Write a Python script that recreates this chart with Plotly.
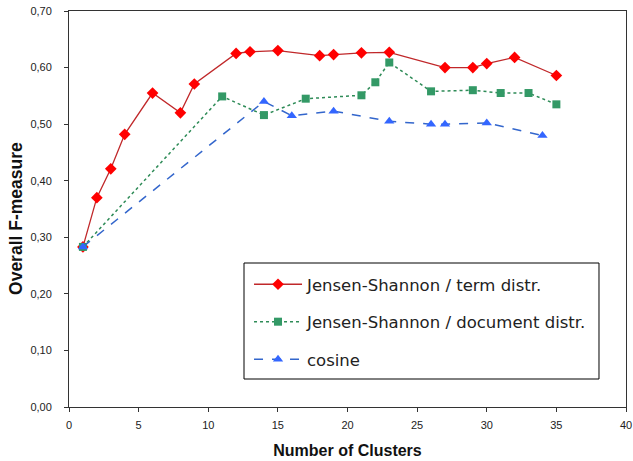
import plotly.graph_objects as go

# Data
js_term_x = [1, 2, 3, 4, 6, 8, 9, 12, 13, 15, 18, 19, 21, 23, 27, 29, 30, 32, 35]
js_term_y = [0.283, 0.370, 0.421, 0.482, 0.555, 0.520, 0.571, 0.625, 0.628, 0.630,
             0.621, 0.623, 0.626, 0.627, 0.600, 0.600, 0.607, 0.618, 0.586]

js_doc_x = [1, 11, 14, 17, 21, 22, 23, 26, 29, 31, 33, 35]
js_doc_y = [0.283, 0.549, 0.516, 0.545, 0.551, 0.574, 0.609, 0.558, 0.560, 0.555, 0.555, 0.535]

cos_x = [1, 14, 16, 19, 23, 26, 27, 30, 34]
cos_y = [0.283, 0.540, 0.515, 0.523, 0.505, 0.500, 0.500, 0.502, 0.480]

names = ["Jensen-Shannon / term distr.", "Jensen-Shannon / document distr.", "cosine"]

y_ticks = [0.0, 0.1, 0.2, 0.3, 0.4, 0.5, 0.6, 0.7]
x_ticks = [0, 5, 10, 15, 20, 25, 30, 35, 40]

x_title = "Number of Clusters"
y_title = "Overall F-measure"

fig = go.Figure()
fig.add_trace(go.Scatter(
    x=js_term_x, y=js_term_y, name=names[0], mode="lines+markers", legendgroup="a",
    line=dict(color="#C0282A", width=1.3, dash="solid"),
    marker=dict(symbol="diamond", size=9, color="#FF0000", line=dict(width=0)),
))
fig.add_trace(go.Scatter(
    x=js_doc_x, y=js_doc_y, name=names[1], mode="lines+markers", legendgroup="b",
    line=dict(color="#2E8B57", width=1.5, dash="dot"),
    marker=dict(symbol="square", size=8, color="#339966", line=dict(width=0)),
))
fig.add_trace(go.Scatter(
    x=cos_x, y=cos_y, name=names[2], mode="lines+markers", legendgroup="c",
    line=dict(color="#3366CC", width=1.5, dash="dash"),
    marker=dict(symbol="triangle-up", size=9, color="#3366FF", line=dict(width=0)),
))

fig.update_layout(
    width=633, height=461,
    margin=dict(l=69, r=7, t=11, b=54),
    paper_bgcolor="white", plot_bgcolor="white",
    separators=", ",
    font=dict(family="Liberation Sans, Arial, sans-serif", color="#222222", size=11),
    legend=dict(
        x=0.3232, y=0.3535, xanchor="left", yanchor="top",
        borderwidth=0, bgcolor="rgba(0,0,0,0)",
        font=dict(family="DejaVu Sans, sans-serif", size=16.5, color="#222222"),
        tracegroupgap=13, itemwidth=48,
    ),
    showlegend=True,
    shapes=[dict(type="rect", xref="paper", yref="paper",
                 x0=0.3142, x1=0.9515, y0=0.0707, y1=0.3636,
                 line=dict(color="black", width=1), fillcolor="white", layer="below")],
    annotations=[dict(text="<b>" + y_title + "</b>", xref="paper", yref="paper",
                      x=-0.0952, y=0.4773, xanchor="center", yanchor="middle",
                      textangle=-90, showarrow=False,
                      font=dict(size=17.5, color="#111111"))],
)
fig.update_xaxes(
    range=[0, 40], tickvals=x_ticks, ticktext=[str(v) for v in x_ticks],
    showgrid=False, zeroline=False, automargin=False,
    showline=True, linecolor="#333333", linewidth=1, mirror=True,
    ticks="outside", ticklen=4, tickcolor="#333333",
    tickfont=dict(size=11, color="#222222"), ticklabelstandoff=4,
    title=dict(text="<b>" + x_title + "</b>", font=dict(size=16, color="#111111"), standoff=14),
)
fig.update_yaxes(
    range=[0, 0.7], tickvals=y_ticks, tickformat=".2f",
    showgrid=False, zeroline=False, automargin=False,
    showline=True, linecolor="#333333", linewidth=1, mirror=True,
    ticks="outside", ticklen=4, tickcolor="#333333",
    tickfont=dict(size=11, color="#222222"), ticklabelstandoff=10,
)

fig.write_html("out.html", config={"displayModeBar": False},
               post_script="document.body.style.margin='0';")
